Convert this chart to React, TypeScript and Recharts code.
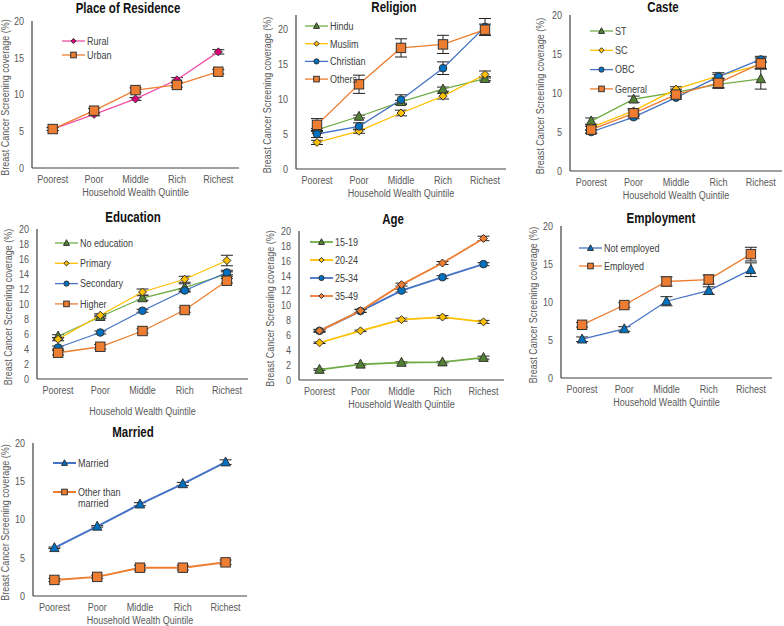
import React from "react";
import { LineChart, Line, XAxis, YAxis, Legend, ErrorBar } from "recharts";

const quintiles = ["Poorest", "Poor", "Middle", "Rich", "Richest"];

// Place of Residence
const ruralCoverage = [5.3, 7.3, 9.4, 12.0, 15.8];
const ruralError = [0.2, 0.2, 0.2, 0.3, 0.3];
const urbanCoverage = [5.3, 7.8, 10.6, 11.3, 13.1];
const urbanError = [0.2, 0.3, 0.3, 0.3, 0.3];

// Religion
const hinduCoverage = [5.6, 7.5, 9.6, 11.4, 12.9];
const hinduError = [0.2, 0.2, 0.2, 0.3, 0.3];
const muslimCoverage = [3.8, 5.4, 8.0, 10.4, 13.5];
const muslimError = [0.3, 0.3, 0.4, 0.4, 0.5];
const christianCoverage = [5.0, 6.1, 9.9, 14.4, 20.3];
const christianError = [0.5, 0.5, 0.7, 0.9, 1.2];
const othersCoverage = [6.3, 12.1, 17.3, 17.8, 19.9];
const othersError = [0.9, 1.3, 1.3, 1.3, 0.8];

// Caste
const stCoverage = [6.4, 9.2, 10.1, 11.1, 11.8];
const stError = [0.4, 0.4, 0.4, 0.5, 1.3];
const scCoverage = [5.6, 7.7, 10.5, 12.2, 13.6];
const scError = [0.3, 0.3, 0.3, 0.4, 0.5];
const obcCoverage = [5.0, 6.9, 9.4, 12.1, 14.3];
const obcError = [0.2, 0.2, 0.2, 0.3, 0.4];
const generalCoverage = [5.3, 7.4, 9.8, 11.3, 13.8];
const generalError = [0.4, 0.4, 0.4, 0.6, 0.7];

// Education
const noEducationCoverage = [5.7, 8.3, 10.8, 12.2, 14.0];
const noEducationError = [0.2, 0.2, 0.3, 0.5, 0.3];
const primaryCoverage = [5.3, 8.5, 11.6, 13.3, 15.8];
const primaryError = [0.2, 0.2, 0.4, 0.4, 0.7];
const secondaryCoverage = [4.2, 6.2, 9.1, 11.8, 14.2];
const secondaryError = [0.2, 0.2, 0.2, 0.2, 0.3];
const higherCoverage = [3.5, 4.3, 6.4, 9.2, 13.1];
const higherError = [0.3, 0.3, 0.3, 0.3, 0.3];

// Age
const age1519Coverage = [1.4, 2.1, 2.35, 2.4, 3.0];
const age1519Error = [0.1, 0.1, 0.1, 0.1, 0.2];
const age2024Coverage = [5.0, 6.6, 8.1, 8.45, 7.8];
const age2024Error = [0.1, 0.1, 0.2, 0.2, 0.2];
const age2534Coverage = [6.6, 9.25, 12.0, 13.8, 15.55];
const age2534Error = [0.1, 0.2, 0.2, 0.2, 0.2];
const age3549Coverage = [6.6, 9.3, 12.8, 15.7, 19.0];
const age3549Error = [0.2, 0.2, 0.2, 0.2, 0.3];

// Employment
const notEmployedCoverage = [5.1, 6.45, 10.1, 11.5, 14.25];
const notEmployedError = [0.3, 0.3, 0.6, 0.5, 0.9];
const employedCoverage = [7.0, 9.6, 12.7, 12.95, 16.3];
const employedError = [0.3, 0.3, 0.6, 0.6, 0.9];

// Married
const marriedCoverage = [6.3, 9.1, 12.0, 14.65, 17.5];
const marriedError = [0.1, 0.1, 0.2, 0.2, 0.3];
const otherThanMarriedCoverage = [2.1, 2.5, 3.7, 3.7, 4.4];
const otherThanMarriedError = [0.2, 0.2, 0.3, 0.3, 0.3];

const FONT = "'Liberation Sans', Arial, sans-serif";
const SQUEEZE = 0.82; // the original uses a narrow face
const AXIS_GRAY = "#595959";
const FRAME = "#404040";

const GREEN = "#70AD47";
const YELLOW = "#FFC000";
const BLUE = "#4472C4";
const ORANGE = "#ED7D31";
const PINK = "#F24FA6";

type Shape = "square" | "circle" | "triangle" | "diamond";

interface Series {
  name: string;
  values: number[];
  errors: number[];
  color: string;
  fill: string;
  shape: Shape;
}

const NarrowText = ({
  x,
  y,
  anchor = "middle",
  size = 11,
  fill = AXIS_GRAY,
  rotate = 0,
  children,
}: {
  x: number;
  y: number;
  anchor?: "start" | "middle" | "end";
  size?: number;
  fill?: string;
  rotate?: number;
  children: React.ReactNode;
}) => (
  <text
    x={0}
    y={0}
    transform={`translate(${x} ${y}) rotate(${rotate}) scale(${SQUEEZE} 1)`}
    textAnchor={anchor}
    dy="0.35em"
    fontSize={size}
    fill={fill}
    fontFamily={FONT}
  >
    {children}
  </text>
);

const Marker = ({ shape, cx, cy, r, fill }: { shape: Shape; cx: number; cy: number; r: number; fill: string }) => {
  const common = { fill, stroke: "#333", strokeWidth: 1 };
  if (shape === "square") return <rect x={cx - r} y={cy - r} width={r * 2} height={r * 2} {...common} />;
  if (shape === "circle") return <circle cx={cx} cy={cy} r={r} {...common} />;
  if (shape === "triangle")
    return <polygon points={`${cx},${cy - r * 1.1} ${cx + r},${cy + r * 0.8} ${cx - r},${cy + r * 0.8}`} {...common} />;
  return <polygon points={`${cx},${cy - r} ${cx + r},${cy} ${cx},${cy + r} ${cx - r},${cy}`} {...common} />;
};

const markerSize: Record<Shape, number> = { square: 4.7, circle: 3.8, triangle: 4.7, diamond: 4 };
const legendSize: Record<Shape, number> = { square: 2.8, circle: 2.6, triangle: 3, diamond: 2.6 };

interface PanelSpec {
  title: string;
  series: Series[];
  box: [number, number, number, number]; // plot area left, top, right, bottom
  yMax: number;
  ticks: number[];
  titleX: number;
  titleY: number;
  yLabelX: number;
  xTitleExtra: number;
  lineWidth: number;
  legend: { x: number; y: number; gap: number };
}

const panels: PanelSpec[] = [
  {
    title: "Place of Residence",
    series: [
      { name: "Rural", values: ruralCoverage, errors: ruralError, color: PINK, fill: "#E0007A", shape: "diamond" },
      { name: "Urban", values: urbanCoverage, errors: urbanError, color: ORANGE, fill: ORANGE, shape: "square" },
    ],
    box: [32, 21, 239, 168],
    yMax: 20,
    ticks: [0, 5, 10, 15, 20],
    titleX: 128,
    titleY: 8,
    yLabelX: 5,
    xTitleExtra: 0,
    lineWidth: 1.3,
    legend: { x: 62, y: 41, gap: 14 },
  },
  {
    title: "Religion",
    series: [
      { name: "Hindu", values: hinduCoverage, errors: hinduError, color: GREEN, fill: "#548235", shape: "triangle" },
      { name: "Muslim", values: muslimCoverage, errors: muslimError, color: YELLOW, fill: YELLOW, shape: "diamond" },
      { name: "Christian", values: christianCoverage, errors: christianError, color: BLUE, fill: "#0070C0", shape: "circle" },
      { name: "Others", values: othersCoverage, errors: othersError, color: ORANGE, fill: ORANGE, shape: "square" },
    ],
    box: [296, 15, 506, 169],
    yMax: 22,
    ticks: [0, 5, 10, 15, 20],
    titleX: 394,
    titleY: 7,
    yLabelX: 267,
    xTitleExtra: 0,
    lineWidth: 1.3,
    legend: { x: 305, y: 26, gap: 17.7 },
  },
  {
    title: "Caste",
    series: [
      { name: "ST", values: stCoverage, errors: stError, color: GREEN, fill: "#548235", shape: "triangle" },
      { name: "SC", values: scCoverage, errors: scError, color: YELLOW, fill: YELLOW, shape: "diamond" },
      { name: "OBC", values: obcCoverage, errors: obcError, color: BLUE, fill: "#0070C0", shape: "circle" },
      { name: "General", values: generalCoverage, errors: generalError, color: ORANGE, fill: ORANGE, shape: "square" },
    ],
    box: [570, 15, 782, 171],
    yMax: 20,
    ticks: [0, 5, 10, 15, 20],
    titleX: 663,
    titleY: 7,
    yLabelX: 540,
    xTitleExtra: 0,
    lineWidth: 1.3,
    legend: { x: 590, y: 31, gap: 19.3 },
  },
  {
    title: "Education",
    series: [
      { name: "No education", values: noEducationCoverage, errors: noEducationError, color: GREEN, fill: "#548235", shape: "triangle" },
      { name: "Primary", values: primaryCoverage, errors: primaryError, color: YELLOW, fill: YELLOW, shape: "diamond" },
      { name: "Secondary", values: secondaryCoverage, errors: secondaryError, color: BLUE, fill: "#0070C0", shape: "circle" },
      { name: "Higher", values: higherCoverage, errors: higherError, color: ORANGE, fill: ORANGE, shape: "square" },
    ],
    box: [37, 229, 248, 379],
    yMax: 20,
    ticks: [0, 2, 4, 6, 8, 10, 12, 14, 16, 18, 20],
    titleX: 133,
    titleY: 217,
    yLabelX: 8,
    xTitleExtra: 8,
    lineWidth: 1.3,
    legend: { x: 55, y: 243, gap: 20.3 },
  },
  {
    title: "Age",
    series: [
      { name: "15-19", values: age1519Coverage, errors: age1519Error, color: GREEN, fill: "#548235", shape: "triangle" },
      { name: "20-24", values: age2024Coverage, errors: age2024Error, color: YELLOW, fill: YELLOW, shape: "diamond" },
      { name: "25-34", values: age2534Coverage, errors: age2534Error, color: BLUE, fill: "#0070C0", shape: "circle" },
      { name: "35-49", values: age3549Coverage, errors: age3549Error, color: ORANGE, fill: ORANGE, shape: "diamond" },
    ],
    box: [299, 231, 504, 380],
    yMax: 20,
    ticks: [0, 2, 4, 6, 8, 10, 12, 14, 16, 18, 20],
    titleX: 393,
    titleY: 219,
    yLabelX: 270,
    xTitleExtra: 0,
    lineWidth: 1.8,
    legend: { x: 310, y: 242, gap: 18 },
  },
  {
    title: "Employment",
    series: [
      { name: "Not employed", values: notEmployedCoverage, errors: notEmployedError, color: BLUE, fill: "#0070C0", shape: "triangle" },
      { name: "Employed", values: employedCoverage, errors: employedError, color: ORANGE, fill: ORANGE, shape: "square" },
    ],
    box: [561, 226, 772, 378],
    yMax: 20,
    ticks: [0, 5, 10, 15, 20],
    titleX: 661,
    titleY: 218,
    yLabelX: 533,
    xTitleExtra: 0,
    lineWidth: 1.3,
    legend: { x: 579, y: 248, gap: 18 },
  },
  {
    title: "Married",
    series: [
      { name: "Married", values: marriedCoverage, errors: marriedError, color: BLUE, fill: "#0070C0", shape: "triangle" },
      { name: "Other than\nmarried", values: otherThanMarriedCoverage, errors: otherThanMarriedError, color: ORANGE, fill: ORANGE, shape: "square" },
    ],
    box: [33, 443, 247, 596],
    yMax: 20,
    ticks: [0, 5, 10, 15, 20],
    titleX: 133,
    titleY: 432,
    yLabelX: 5,
    xTitleExtra: 0,
    lineWidth: 2,
    legend: { x: 53, y: 463, gap: 29 },
  },
];

const LegendBox = ({ spec }: { spec: PanelSpec }) => (
  <svg width={120} height={spec.legend.gap * spec.series.length + 16} style={{ overflow: "visible", display: "block" }}>
    {spec.series.map((s, k) => {
      const y = 6 + k * spec.legend.gap;
      const lines = s.name.split("\n");
      return (
        <g key={s.name}>
          <line x1={0} x2={23} y1={y} y2={y} stroke={s.color} strokeWidth={spec.lineWidth} />
          <Marker shape={s.shape} cx={11.5} cy={y} r={legendSize[s.shape]} fill={s.fill} />
          {lines.map((t, j) => (
            <NarrowText key={t} x={25} y={y + j * 11} anchor="start" fill="#404040">
              {t}
            </NarrowText>
          ))}
        </g>
      );
    })}
  </svg>
);

const YW = 40;

const Panel = ({ spec }: { spec: PanelSpec }) => {
  const [L, T, R, B] = spec.box;
  const chartLeft = L - YW;
  const chartTop = T - 8;
  const xAxisH = 30 + spec.xTitleExtra;
  const width = R - L + YW + 1;
  const height = B - T + 8 + xAxisH;
  const pad = (R - L) / 10;
  const data = quintiles.map((q, i) => {
    const row: Record<string, string | number> = { q };
    spec.series.forEach((s, k) => {
      row[`v${k}`] = s.values[i];
      row[`e${k}`] = s.errors[i];
    });
    return row;
  });
  const labelX = spec.yLabelX - chartLeft;
  const labelY = (T + B) / 2 + 3 - chartTop;
  const xTitleY = B + 24 + spec.xTitleExtra - chartTop;
  const xTitleX = (L + R) / 2 - chartLeft;
  return (
    <>
      <div
        style={{
          position: "absolute",
          left: spec.titleX - 100,
          top: spec.titleY - 7,
          width: 200,
          height: 15,
          lineHeight: "15px",
          textAlign: "center",
          fontWeight: "bold",
          fontSize: 14,
          color: "#111",
          transform: `scaleX(${SQUEEZE})`,
        }}
      >
        {spec.title}
      </div>
      <div style={{ position: "absolute", left: chartLeft, top: chartTop }}>
        <LineChart width={width} height={height} data={data} margin={{ top: 8, right: 1, bottom: 0, left: 0 }}>
          <XAxis
            dataKey="q"
            height={xAxisH}
            padding={{ left: pad, right: pad }}
            tickLine={false}
            tickSize={0}
            tickMargin={0}
            axisLine={{ stroke: FRAME, strokeWidth: 1.2 }}
            interval={0}
            tick={(t: any) => (
              <NarrowText key={t.payload.value} x={t.x} y={t.y + 11}>
                {t.payload.value}
              </NarrowText>
            )}
            label={() => (
              <NarrowText x={xTitleX} y={xTitleY}>
                Household Wealth Quintile
              </NarrowText>
            )}
          />
          <XAxis
            xAxisId="frame"
            orientation="top"
            dataKey="q"
            height={0}
            tick={false}
            tickLine={false}
            axisLine={{ stroke: FRAME, strokeWidth: 1.2 }}
          />
          <YAxis
            width={YW}
            domain={[0, spec.yMax]}
            ticks={spec.ticks}
            interval={0}
            allowDataOverflow
            tickLine={false}
            tickSize={0}
            tickMargin={8}
            axisLine={{ stroke: FRAME, strokeWidth: 1.2 }}
            tick={(t: any) => (
              <NarrowText key={t.payload.value} x={t.x} y={t.y} anchor="end">
                {t.payload.value}
              </NarrowText>
            )}
            label={() => (
              <NarrowText x={labelX} y={labelY} rotate={-90}>
                Breast Cancer Screening coverage (%)
              </NarrowText>
            )}
          />
          <YAxis
            yAxisId="frame"
            orientation="right"
            width={0}
            domain={[0, spec.yMax]}
            tick={false}
            tickLine={false}
            axisLine={{ stroke: FRAME, strokeWidth: 1.2 }}
          />
          <Legend
            layout="vertical"
            align="center"
            verticalAlign="middle"
            wrapperStyle={{
              left: spec.legend.x - chartLeft,
              top: spec.legend.y - 6 - chartTop,
              width: 120,
              height: spec.legend.gap * spec.series.length + 16,
            }}
            content={() => <LegendBox spec={spec} />}
          />
          {spec.series.map((s, k) => (
            <Line
              key={s.name}
              type="linear"
              dataKey={`v${k}`}
              name={s.name}
              stroke={s.color}
              strokeWidth={spec.lineWidth}
              isAnimationActive={false}
              activeDot={false}
              dot={(d: any) => (
                <Marker key={`${s.name}-${d.index}`} shape={s.shape} cx={d.cx} cy={d.cy} r={markerSize[s.shape]} fill={s.fill} />
              )}
            >
              <ErrorBar dataKey={`e${k}`} width={6} stroke="#222" strokeWidth={1} direction="y" />
            </Line>
          ))}
        </LineChart>
      </div>
    </>
  );
};

export default function App() {
  return (
    <div
      style={{
        position: "absolute",
        left: 0,
        top: 0,
        width: 784,
        height: 626,
        overflow: "hidden",
        background: "#fff",
        fontFamily: FONT,
      }}
    >
      {panels.map((p) => (
        <Panel key={p.title} spec={p} />
      ))}
    </div>
  );
}
